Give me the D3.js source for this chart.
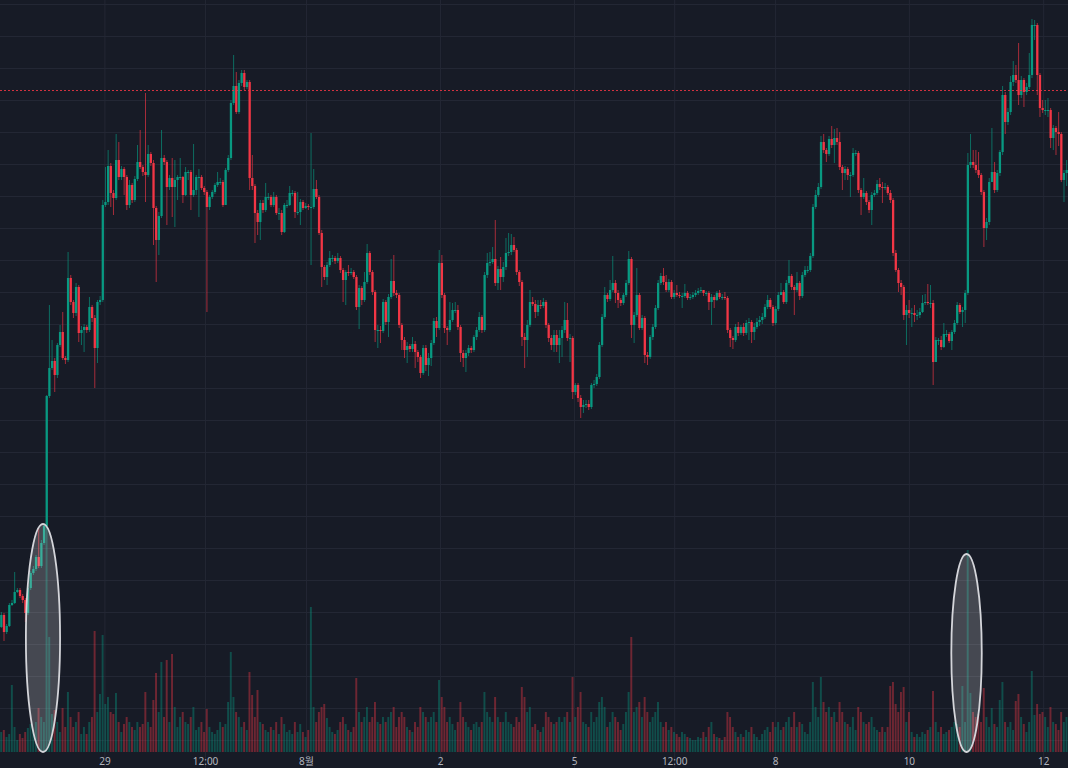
<!DOCTYPE html>
<html>
<head>
<meta charset="utf-8">
<script src="https://cdn.jsdelivr.net/npm/d3@7"></script>
<style>
html, body { margin: 0; padding: 0; background: #171b26; overflow: hidden; }
</style>
</head>
<body>
<script>
const width = 1068;
const height = 768;

// price data (open = previous close)
const startOpen = 1450;
const close = [
  1570,1400,1460,1670,1690,1800,1820,1760,1720,1590,
  1840,1990,2030,2150,2060,2290,2460,3760,4040,4110,
  3970,4270,4400,4140,4120,4940,4700,4590,4850,4390,
  4420,4450,4420,4650,4540,4240,4700,4720,5670,5700,
  6060,5790,5740,6120,5950,6030,5950,5670,5870,5720,
  5930,6100,6050,6000,5970,6180,6090,5640,5320,5560,
  6140,6100,5850,5940,5850,5920,5950,5950,5770,6000,
  6000,5770,5820,5950,5950,5840,5800,5650,5750,5800,
  5870,5900,5900,5670,6020,6140,6690,6860,6600,6890,
  6990,6850,6900,5940,5860,5590,5500,5690,5620,5750,
  5750,5670,5750,5590,5590,5400,5670,5670,5790,5790,
  5600,5600,5700,5640,5660,5650,5650,5830,5750,5390,
  5050,4950,5070,5140,5140,5110,5140,5020,4920,5000,
  4990,5000,4950,4650,4840,4720,4900,5190,5000,4800,
  4420,4420,4410,4700,4500,4750,4910,4790,4770,4470,
  4320,4220,4260,4230,4280,4200,4150,3990,4240,4070,
  4140,4290,4510,4440,5090,4770,4440,4420,4520,4620,
  4620,4450,4190,4140,4190,4240,4220,4350,4420,4550,
  4420,4970,5090,5100,5130,4890,5030,4950,5050,5190,
  5200,5270,5220,5000,4900,4350,4320,4470,4700,4680,
  4600,4670,4660,4700,4470,4340,4270,4370,4270,4340,
  4420,4520,4340,4340,3800,3870,3740,3650,3670,3680,
  3650,3870,3880,3950,4270,4550,4770,4730,4820,4890,
  4790,4720,4690,4770,4890,5130,4470,4570,4770,4440,
  4540,4170,4150,4350,4450,4640,4890,4960,4900,4820,
  4900,4750,4790,4770,4760,4760,4790,4740,4750,4770,
  4790,4810,4820,4790,4790,4700,4750,4720,4790,4750,
  4750,4740,4420,4340,4320,4450,4390,4450,4390,4490,
  4500,4400,4450,4500,4520,4550,4650,4720,4650,4490,
  4630,4770,4800,4700,4890,4960,4850,4820,4890,4760,
  4970,5020,5020,5160,5650,5770,5850,6300,6220,6180,
  6330,6270,6340,6300,6050,5990,6030,5970,5970,6190,
  6190,5820,5750,5790,5700,5620,5770,5790,5880,5850,
  5840,5850,5790,5720,5190,5020,4890,4850,4570,4620,
  4590,4590,4570,4570,4600,4690,4700,4690,4690,4100,
  4320,4320,4250,4380,4380,4310,4400,4490,4670,4600,
  4620,4790,6070,6100,6070,6020,5970,5800,5440,5500,
  5900,6000,5820,5990,6200,6770,6500,6600,6900,6970,
  6920,6770,6920,6800,6850,6970,7470,7470,6970,6640,
  6620,6620,6620,6340,6440,6400,6380,5920,5990,6020
];
const high = [
  1600,1590,1480,1690,1720,2000,1840,1840,1780,1740,
  1870,2010,2060,2170,2440,2320,2480,3770,4670,4320,
  4140,4290,4470,4600,4160,5200,4970,4720,4890,4870,
  4460,4480,4470,4750,4670,4570,4720,4760,5720,6050,
  6220,6090,5820,6380,6300,6060,6050,5970,5920,5890,
  5960,6270,6420,6070,6790,6270,6200,6120,5660,5600,
  6420,6170,6120,5970,6140,6120,5970,6140,5960,6050,
  6020,6020,6280,5970,6030,5970,5860,5820,5770,5820,
  5890,6000,5940,5920,6040,6170,6720,7170,7000,6920,
  7020,7020,6920,6920,6170,5880,5620,5720,5720,5890,
  5790,5770,5800,5770,5640,5620,5690,5720,5860,5820,
  5810,5800,5730,5720,5690,5680,6390,6030,5920,5770,
  5420,5070,5100,5210,5170,5160,5190,5160,5040,5020,
  5070,5040,5020,4970,4870,4860,5000,5280,5210,5020,
  4820,4470,4460,4730,4720,4780,5130,5170,4820,4790,
  4490,4350,4300,4280,4350,4310,4220,4170,4270,4270,
  4190,4320,4540,4550,5220,5170,4790,4460,4700,4690,
  4700,4670,4470,4220,4220,4270,4260,4370,4450,4600,
  4570,5000,5190,5200,5250,5520,5060,5150,5100,5340,
  5390,5380,5350,5240,5020,4920,4390,4520,4820,4750,
  4720,4720,4720,4740,4720,4490,4370,4420,4420,4420,
  4460,4700,4690,4380,4360,3890,3890,3770,3720,3720,
  3720,3890,3920,3980,4300,4580,4850,4790,4920,5160,
  4920,4820,4740,4790,4920,5210,5150,4600,5040,4790,
  4570,4560,4200,4370,4480,4670,4920,4990,5040,4970,
  4930,4920,4820,4870,4800,4790,4880,4810,4780,4800,
  4820,4840,4850,4820,4810,4810,4780,4770,4810,4820,
  4780,4800,4760,4440,4360,4480,4500,4470,4490,4520,
  4540,4520,4490,4540,4560,4590,4680,4770,4740,4670,
  4660,4800,4890,4820,4920,5120,4980,4870,5000,4910,
  5000,5060,5060,5190,5680,5820,5890,6360,6380,6240,
  6360,6460,6430,6440,6400,6070,6060,6050,6000,6240,
  6220,6210,5840,5940,5810,5720,5800,5820,5920,5940,
  5900,5890,5870,5820,5740,5220,5040,4920,4870,4670,
  4720,4640,4670,4620,4640,4770,4780,4880,4870,4720,
  4350,4340,4360,4490,4420,4400,4420,4520,4700,4690,
  4650,4820,6190,6380,6220,6220,6200,5990,5820,5540,
  5940,6440,6100,6020,6220,6860,6800,6640,6960,7110,
  7070,7290,6960,6940,6890,7190,7530,7520,7490,6990,
  6720,6720,6740,6640,6470,6460,6600,6400,6020,6120
];
const low = [
  1440,1310,1380,1450,1660,1680,1790,1740,1690,1500,
  1570,1820,1970,2010,2040,2040,2270,2440,3740,4020,
  3800,3940,4250,4120,4080,4100,4670,4540,4560,4300,
  4270,4200,4390,4400,4500,3840,4090,4670,4700,5650,
  5670,5650,5570,5720,5920,5920,5770,5620,5640,5690,
  5700,5910,6030,5960,5700,5950,6060,5270,4900,5170,
  5540,6070,5470,5820,5550,5450,5720,5920,5690,5760,
  5920,5620,5750,5770,5550,5820,5770,4600,5620,5730,
  5780,5850,5870,5650,5720,6000,6120,6670,6580,6580,
  6860,6820,6830,5820,5820,5290,5370,5320,5590,5600,
  5720,5650,5650,5570,5520,5370,5390,5640,5660,5760,
  5540,5570,5470,5620,5630,5620,5070,5630,5730,5370,
  4850,4920,4870,5050,5100,5080,5090,4990,4700,4670,
  4960,4970,4930,4620,4430,4670,4700,4880,4970,4770,
  4300,4240,4290,4390,4470,4350,4730,4760,4740,4440,
  4220,4140,4090,4200,4200,4040,4100,3940,3970,4010,
  3960,4060,4270,4350,4420,4740,4390,4270,4400,4500,
  4590,4420,4100,4050,4000,4160,4190,4200,4320,4400,
  4390,4400,4940,5060,5080,4860,4820,4820,4900,5020,
  5160,5170,5200,4970,4860,4260,4040,4150,4450,4660,
  4540,4560,4630,4640,4440,4300,4220,4200,4200,4090,
  4150,4390,4310,4100,3730,3770,3700,3540,3590,3640,
  3620,3630,3840,3860,3930,4250,4530,4700,4710,4800,
  4690,4640,4660,4670,4750,4870,4340,4290,4550,4420,
  4420,4090,4070,4130,4320,4430,4620,4870,4870,4800,
  4800,4730,4730,4750,4740,4640,4740,4720,4720,4730,
  4750,4770,4790,4760,4760,4620,4470,4640,4710,4730,
  4720,4720,4390,4250,4230,4300,4360,4370,4360,4370,
  4320,4290,4320,4430,4460,4480,4530,4630,4630,4460,
  4470,4610,4770,4680,4680,4870,4820,4570,4800,4720,
  4740,4950,4990,5000,5140,5630,5750,5830,6190,6100,
  6160,6240,6090,6270,6020,5820,5920,5920,5750,5950,
  6160,5790,5570,5730,5670,5590,5470,5750,5770,5820,
  5690,5820,5770,5690,5160,5000,4800,4770,4520,4270,
  4540,4450,4500,4520,4540,4590,4670,4670,4640,3870,
  4100,4270,4220,4240,4350,4290,4220,4380,4470,4580,
  4450,4490,4770,6040,6040,5990,5940,5770,5250,5320,
  5470,5960,5790,5800,5960,6170,6380,6470,6570,6860,
  6890,6670,6740,6650,6770,6830,6940,7320,6770,6550,
  6590,6570,6550,6240,6220,6170,6260,5900,5700,5860
];
const volume = [
  20,22,15,18,67,25,12,18,14,20,
  24,28,22,30,44,35,30,227,115,38,
  42,30,20,44,25,60,35,25,30,40,
  18,25,18,30,35,121,40,58,117,48,
  55,40,38,59,30,20,28,35,30,25,
  22,30,25,28,60,30,25,52,79,40,
  90,35,92,30,98,45,25,35,40,30,
  28,35,45,22,25,30,20,43,25,20,
  18,22,30,25,28,50,100,55,40,35,
  25,30,22,80,57,35,62,30,28,22,
  20,25,22,30,18,35,28,20,22,18,
  30,20,28,20,15,22,145,45,30,40,
  45,48,34,25,20,18,22,30,35,28,
  22,20,25,74,40,30,35,45,30,35,
  50,30,28,35,30,35,40,45,25,35,
  40,35,25,22,20,30,25,45,40,35,
  30,35,40,30,72,55,45,30,35,28,
  22,30,50,35,30,25,22,28,30,25,
  30,60,40,35,30,55,35,30,30,40,
  30,28,25,35,30,65,55,40,45,25,
  28,22,20,25,40,35,30,28,30,35,
  30,35,40,30,75,35,45,60,30,28,
  25,40,30,35,50,55,45,25,30,40,
  35,30,22,28,40,60,115,40,45,50,
  35,55,40,30,35,40,50,30,25,30,
  22,25,20,18,15,20,18,15,14,12,
  12,15,14,20,15,25,30,18,15,14,
  12,15,40,35,25,20,15,18,15,22,
  20,25,18,15,12,18,22,25,20,30,
  25,30,22,25,30,35,25,40,25,30,
  28,20,18,30,70,45,35,75,50,40,
  45,35,40,30,50,40,30,28,25,35,
  22,45,40,30,28,30,35,25,22,20,
  25,20,25,66,70,48,40,60,65,30,
  40,20,15,18,15,20,18,22,25,61,
  30,20,25,18,20,22,25,30,28,25,
  66,30,202,59,40,35,38,30,64,35,
  25,44,28,25,52,70,30,25,30,22,
  51,58,35,28,20,30,81,37,48,38,
  40,35,25,45,30,28,22,40,30,35
];

// time axis (positions in candle units)
const tickAt = [39.1, 76.8, 114.6, 164.8, 215, 252.5, 290.3, 340.4, 390.7];
const tickLabels = ['29', '12:00', '8월', '2', '5', '12:00', '8', '10', '12'];

// dotted price line
const alertLevel = 6815;

// highlighted volume spikes (center in candle units, top in volume units)
const markAt = [16.1, 362];
const markTop = [228, 198];
const markHalf = [6.4, 5.7];

const upColor = '#089981';
const downColor = '#f23645';

const candles = close.map((c, i) => {
  const o = i === 0 ? startOpen : close[i - 1];
  return {i, o, c, h: Math.max(high[i], o, c), l: Math.min(low[i], o, c), v: volume[i], up: c >= o};
});

const x = d3.scaleLinear().domain([0, close.length]).range([0, width]);
const y = d3.scaleLinear().domain([0, 7680]).range([772, 4]);
const yv = d3.scaleLinear().domain([0, 230]).range([752, 522]);
const step = x(1) - x(0);
const bodyW = step * 0.86;
const cx = d => x(d.i + 0.5);

const svg = d3.select('body').append('svg')
  .attr('width', width).attr('height', height)
  .style('display', 'block');

svg.append('rect').attr('width', width).attr('height', height).attr('fill', '#171b26');

// grid
svg.append('g')
  .attr('transform', `translate(0,${height})`)
  .call(d3.axisBottom(x).tickValues(tickAt).tickSize(-height).tickFormat(''))
  .call(g => g.select('.domain').remove())
  .call(g => g.selectAll('line').attr('stroke', '#232734'));
svg.append('g')
  .call(d3.axisLeft(y).tickValues(d3.range(320, 7681, 320)).tickSize(-width).tickFormat(''))
  .call(g => g.select('.domain').remove())
  .call(g => g.selectAll('line').attr('stroke', '#232734'));

// volume
svg.append('g').selectAll('rect')
  .data(candles)
  .join('rect')
  .attr('x', d => cx(d) - bodyW / 2)
  .attr('y', d => yv(d.v))
  .attr('width', bodyW * 0.85)
  .attr('height', d => yv(0) - yv(d.v))
  .attr('fill', d => d.up ? upColor : downColor)
  .attr('opacity', 0.4);

// wicks
svg.append('g').selectAll('line')
  .data(candles)
  .join('line')
  .attr('x1', cx).attr('x2', cx)
  .attr('y1', d => y(d.h))
  .attr('y2', d => y(d.l))
  .attr('stroke', d => d.up ? upColor : downColor)
  .attr('stroke-opacity', 0.65)
  .attr('stroke-width', 1);

// bodies
svg.append('g').selectAll('rect')
  .data(candles)
  .join('rect')
  .attr('x', d => cx(d) - bodyW / 2)
  .attr('y', d => y(Math.max(d.o, d.c)))
  .attr('width', bodyW)
  .attr('height', d => Math.max(1, Math.abs(y(d.o) - y(d.c))))
  .attr('fill', d => d.up ? upColor : downColor);

// dotted price line
svg.append('line')
  .attr('x1', 0).attr('x2', width)
  .attr('y1', y(alertLevel)).attr('y2', y(alertLevel))
  .attr('stroke', downColor)
  .attr('stroke-opacity', 0.85)
  .attr('stroke-width', 1)
  .attr('stroke-dasharray', '2,2');

// highlight ellipses
svg.append('g').selectAll('ellipse')
  .data(markAt.map((m, k) => ({m, top: markTop[k], half: markHalf[k]})))
  .join('ellipse')
  .attr('cx', d => x(d.m))
  .attr('cy', d => (yv(0) + yv(d.top)) / 2)
  .attr('rx', d => x(d.half) - x(0))
  .attr('ry', d => (yv(0) - yv(d.top)) / 2)
  .attr('fill', 'rgba(255,255,255,0.2)')
  .attr('stroke', '#d4d5da')
  .attr('stroke-width', 1.8);

// time labels
svg.append('g')
  .attr('transform', 'translate(0,755)')
  .call(d3.axisBottom(x).tickValues(tickAt).tickSize(0).tickFormat((d, k) => tickLabels[k]))
  .call(g => g.select('.domain').remove())
  .call(g => g.selectAll('text')
    .attr('fill', '#b2b5be')
    .attr('font-size', '10px')
    .attr('font-family', '"Noto Sans", "Noto Sans CJK KR", sans-serif'));
</script>
</body>
</html>
